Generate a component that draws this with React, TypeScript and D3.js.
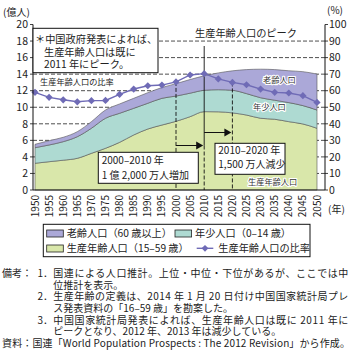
import React from "react";
import * as d3 from "d3";

const years = [1950, 1955, 1960, 1965, 1970, 1975, 1980, 1985, 1990, 1995, 2000, 2005, 2010, 2015, 2020, 2025, 2030, 2035, 2040, 2045, 2050];
const working = [3.23, 3.42, 3.6, 3.83, 4.43, 5.04, 5.76, 6.65, 7.37, 7.85, 8.3, 8.86, 9.47, 9.45, 9.32, 9.06, 8.67, 8.55, 8.26, 7.98, 7.46];
const youth = [1.88, 2.02, 2.24, 2.61, 3.03, 3.63, 3.51, 3.22, 3.11, 3.23, 3.05, 2.84, 2.58, 2.67, 2.73, 2.59, 2.48, 2.3, 2.3, 2.22, 2.2];
const elderly = [0.41, 0.52, 0.53, 0.61, 0.8, 1.0, 1.13, 1.21, 1.28, 1.3, 1.5, 1.65, 1.75, 2.03, 2.35, 2.9, 3.45, 3.7, 3.85, 4.1, 4.35];
const ratio = [59.0, 56.0, 54.5, 53.3, 54.0, 54.1, 57.8, 61.0, 63.0, 63.4, 65.3, 69.5, 70.3, 67.1, 65.0, 63.6, 61.0, 59.0, 58.6, 57.0, 52.9];
const leftTicks = [0, 2, 4, 6, 8, 10, 12, 14, 16, 18, 20];
const rightTicks = [0, 10, 20, 30, 40, 50, 60, 70, 80, 90, 100];
const gridTicks = [2, 4, 6, 8, 10, 12, 14, 16, 18];

const notes = [
  { label: "備考：", num: "1．", text: "国連による人口推計。上位・中位・下位があるが、ここでは中", full: true },
  { label: "", num: "", text: "位推計を表示。", full: false },
  { label: "", num: "2．", text: "生産年齢の定義は、2014 年 1 月 20 日付け中国国家統計局プレ", full: true },
  { label: "", num: "", text: "ス発表資料の「16–59 歳」を勘案した。", full: false },
  { label: "", num: "3．", text: "中国国家統計局発表によれば、生産年齢人口は既に 2011 年に", full: true },
  { label: "", num: "", text: "ピークとなり、2012 年、2013 年は減少している。", full: false },
];
const source = "資料：国連「World Population Prospects : The 2012 Revision」から作成。";

const C_OLD = "#aba8d8";
const C_YOUNG = "#aedad2";
const C_WORK = "#d9e7aa";
const C_LINE = "#6f6bb6";
const FONT = "'Noto Sans CJK JP', 'Noto Sans', sans-serif";

export default function App() {
  const L = 33, R = 325, T = 24.5, B = 190;
  const x = d3.scaleLinear().domain([1950, 2050]).range([35, 317]);
  const y = d3.scaleLinear().domain([0, 20]).range([B, T]);
  const yR = d3.scaleLinear().domain([0, 100]).range([B, T]);

  const rows = years.map((yr, i) => ({ year: yr, working: working[i], youth: youth[i], elderly: elderly[i] }));
  const stack = d3.stack<any>().keys(["working", "youth", "elderly"])(rows);
  const area = d3
    .area<any>()
    .x((d) => x(d.data.year))
    .y0((d) => y(d[0]))
    .y1((d) => y(d[1]))
    .curve(d3.curveMonotoneX);
  const colors = [C_WORK, C_YOUNG, C_OLD];

  const line = d3
    .line<number>()
    .x((_, i) => x(years[i]))
    .y((d) => yR(d));

  const diamond = (cx: number, cy: number, r: number) =>
    `M${cx},${cy - r}L${cx + r},${cy}L${cx},${cy + r}L${cx - r},${cy}Z`;

  const x2000 = x(2000), x2010 = x(2010), x2020 = x(2020);
  const ri = (yr: number) => ratio[years.indexOf(yr)];

  const halo = { paintOrder: "stroke" as const, stroke: "#fff", strokeWidth: 2.2, strokeLinejoin: "round" as const };
  const a1 = 145.5, a2 = 132.5;

  return (
    <svg width={356} height={356} style={{ position: "absolute", left: 0, top: 0, background: "#fff" }} fontFamily={FONT}>
      <rect x={0} y={0} width={356} height={356} fill="#fff" />
      {/* grid */}
      {gridTicks.map((t) => (
        <line key={t} x1={L} x2={R} y1={y(t)} y2={y(t)} stroke="#222" strokeWidth={0.8} strokeDasharray="4,2" />
      ))}
      {/* areas */}
      {stack.map((s, i) => (
        <path key={i} d={area(s) || ""} fill={colors[i]} stroke="#555" strokeWidth={0.6} />
      ))}
      {/* vertical lines */}
      <line x1={x2000} x2={x2000} y1={yR(ri(2000))} y2={B} stroke="#111" strokeWidth={0.9} strokeDasharray="4,2" />
      <line x1={x2010} x2={x2010} y1={46} y2={a1} stroke="#111" strokeWidth={0.9} />
      <line x1={x2010} x2={x2010} y1={a1} y2={B} stroke="#111" strokeWidth={0.9} strokeDasharray="4,2" />
      <line x1={x2020} x2={x2020} y1={yR(ri(2020))} y2={B} stroke="#111" strokeWidth={0.9} strokeDasharray="4,2" />
      {/* arrows */}
      <line x1={x2000} x2={x2010 - 6} y1={a1} y2={a1} stroke="#111" strokeWidth={1} />
      <path d={`M${x2010 - 1},${a1}L${x2010 - 8},${a1 - 4}L${x2010 - 8},${a1 + 4}Z`} fill="#111" />
      <line x1={x2010} x2={x2020 - 6} y1={a2} y2={a2} stroke="#111" strokeWidth={1} />
      <path d={`M${x2020 - 1},${a2}L${x2020 - 8},${a2 - 4}L${x2020 - 8},${a2 + 4}Z`} fill="#111" />
      {/* ratio line */}
      <path d={line(ratio) || ""} fill="none" stroke={C_LINE} strokeWidth={1.4} />
      {ratio.map((v, i) => (
        <path key={i} d={diamond(x(years[i]), yR(v), 3.6)} fill={C_LINE} />
      ))}
      {/* axes */}
      <line x1={L} x2={L} y1={T} y2={B} stroke="#111" strokeWidth={1} />
      <line x1={R} x2={R} y1={T} y2={B} stroke="#111" strokeWidth={1} />
      <line x1={L} x2={R} y1={B} y2={B} stroke="#111" strokeWidth={1} />
      {leftTicks.map((t) => (
        <g key={t}>
          <line x1={L - 3} x2={L} y1={y(t)} y2={y(t)} stroke="#111" strokeWidth={0.8} />
          <text x={28} y={y(t)} dy="0.36em" fontSize={10.5} textAnchor="end" fill="#222">{t}</text>
        </g>
      ))}
      {rightTicks.map((t) => (
        <g key={t}>
          <line x1={R} x2={R + 3} y1={yR(t)} y2={yR(t)} stroke="#111" strokeWidth={0.8} />
          <text x={329} y={yR(t)} dy="0.36em" fontSize={10.5} textAnchor="start" fill="#222">{t}</text>
        </g>
      ))}
      {years.map((yr) => (
        <text key={yr} transform={`translate(${x(yr)},195) rotate(-90)`} dy="0.35em" fontSize={10} textAnchor="end" fill="#222">{yr}</text>
      ))}
      <text x={3} y={16} fontSize={10} fill="#222">(億人)</text>
      <text x={327} y={14} fontSize={10} fill="#222">(%)</text>
      <text x={328} y={213} fontSize={10} fill="#222">(年)</text>

      {/* annotation box */}
      <rect x={L} y={28.3} width={125} height={44.4} fill="#fff" stroke="#111" strokeWidth={1} />
      <text x={35} y={43} fontSize={10.2} fill="#222">＊中国政府発表によれば、</text>
      <text x={44} y={55.5} fontSize={10.2} fill="#222">生産年齢人口は既に</text>
      <text x={44} y={67.5} fontSize={10.2} fill="#222">2011 年にピーク。</text>
      <text x={40} y={85} fontSize={8.2} fill="#222" style={halo}>生産年齢人口の比率</text>
      <text x={246} y={37} fontSize={10.2} textAnchor="middle" fill="#222">生産年齢人口のピーク</text>

      {/* area labels */}
      <text x={263} y={83} fontSize={8.2} fill="#333" style={halo}>老齢人口</text>
      <text x={253} y={110} fontSize={8.2} fill="#333" style={halo}>年少人口</text>
      <text x={248} y={185} fontSize={8.2} fill="#333" style={halo}>生産年齢人口</text>

      {/* change boxes */}
      <rect x={98.3} y={152.3} width={100} height={31} fill="#fff" stroke="#111" strokeWidth={1} />
      <text x={101.7} y={164} fontSize={10} fill="#222">2000–2010 年</text>
      <text x={101.7} y={179.3} fontSize={10} fill="#222">1 億 2,000 万人増加</text>
      <rect x={215} y={143.3} width={70} height={31} fill="#fff" stroke="#111" strokeWidth={1} />
      <text x={218.3} y={154} fontSize={10} fill="#222">2010–2020 年</text>
      <text x={218.3} y={168.3} fontSize={10} fill="#222">1,500 万人減少</text>

      {/* legend */}
      <rect x={43.3} y={224.3} width={266.7} height={32.4} fill="#fff" stroke="#111" strokeWidth={1} />
      <rect x={46.7} y={230} width={16.6} height={7} fill={C_OLD} stroke="#222" strokeWidth={0.8} />
      <text x={66.7} y={233.3} dy="0.36em" fontSize={10.2} fill="#222">老齢人口（60 歳以上）</text>
      <rect x={175} y={230} width={16.6} height={7} fill={C_YOUNG} stroke="#222" strokeWidth={0.8} />
      <text x={195} y={233.3} dy="0.36em" fontSize={10.2} fill="#222">年少人口（0–14 歳）</text>
      <rect x={46.7} y={245} width={16.6} height={7} fill={C_WORK} stroke="#222" strokeWidth={0.8} />
      <text x={66.7} y={248.3} dy="0.36em" fontSize={10.2} fill="#222">生産年齢人口（15–59 歳）</text>
      <line x1={196.7} x2={213.3} y1={248.3} y2={248.3} stroke={C_LINE} strokeWidth={1.4} />
      <path d={diamond(205, 248.3, 3.4)} fill={C_LINE} />
      <text x={218.3} y={248.3} dy="0.36em" fontSize={10.2} fill="#222">生産年齢人口の比率</text>

      {/* notes */}
      {notes.map((n, i) => {
        const yy = 273.3 + i * 11.67;
        return (
          <g key={i}>
            {n.label && <text x={2} y={yy} dy="0.36em" fontSize={10} fill="#222">{n.label}</text>}
            {n.num && <text x={37.5} y={yy} dy="0.36em" fontSize={10} fill="#222">{n.num}</text>}
            <text x={53.3} y={yy} dy="0.36em" fontSize={10} fill="#222" {...(n.full ? { textLength: 295, lengthAdjust: "spacing" } : {})}>{n.text}</text>
          </g>
        );
      })}
      <text x={2} y={343.3} dy="0.36em" fontSize={10} fill="#222" textLength={348} lengthAdjust="spacing">{source}</text>
    </svg>
  );
}
